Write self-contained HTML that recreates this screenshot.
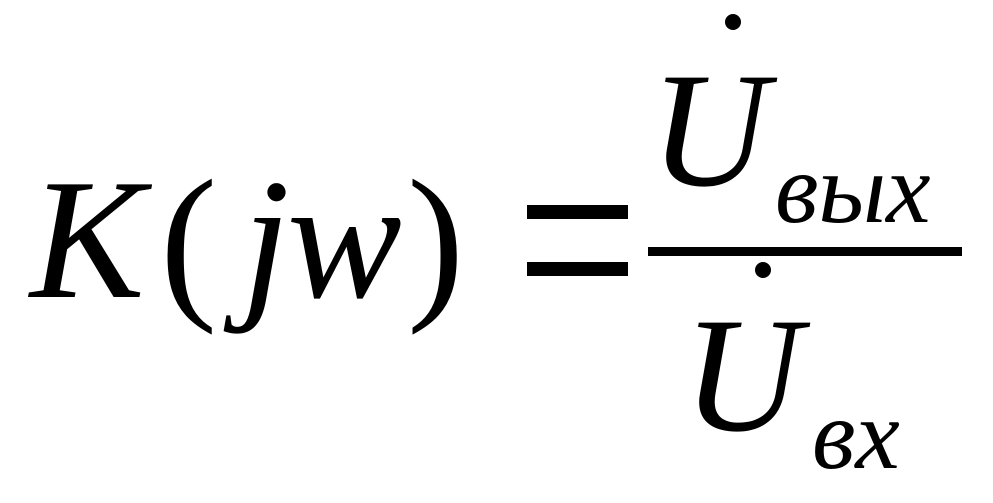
<!DOCTYPE html>
<html>
<head>
<meta charset="utf-8">
<style>
html,body{margin:0;padding:0;background:#fff;}
svg{display:block;}
text{font-family:"Liberation Serif","DejaVu Serif",serif;fill:#000;}
.i{font-style:italic;}
</style>
</head>
<body>
<svg width="993" height="503" viewBox="0 0 993 503" xmlns="http://www.w3.org/2000/svg">
<rect width="993" height="503" fill="#fff"/>
<text class="i" x="30" y="297" font-size="172">K</text>
<text x="160" y="298" font-size="172">(</text>
<text class="i" x="242" y="297" font-size="172">j</text>
<text class="i" x="287" y="297" font-size="172">w</text>
<text x="407" y="298" font-size="172">)</text>
<rect x="527" y="205" width="101" height="14" fill="#000"/>
<rect x="527" y="262" width="101" height="14" fill="#000"/>
<rect x="648" y="247" width="314" height="9" fill="#000"/>
<text class="i" x="650" y="185" font-size="164">U</text>
<circle cx="733" cy="22" r="8" fill="#000"/>
<text class="i" x="775" y="222" font-size="100">вых</text>
<text class="i" x="683" y="430" font-size="164">U</text>
<circle cx="763" cy="270" r="8" fill="#000"/>
<text class="i" x="812" y="468" font-size="100">вх</text>
</svg>
</body>
</html>
